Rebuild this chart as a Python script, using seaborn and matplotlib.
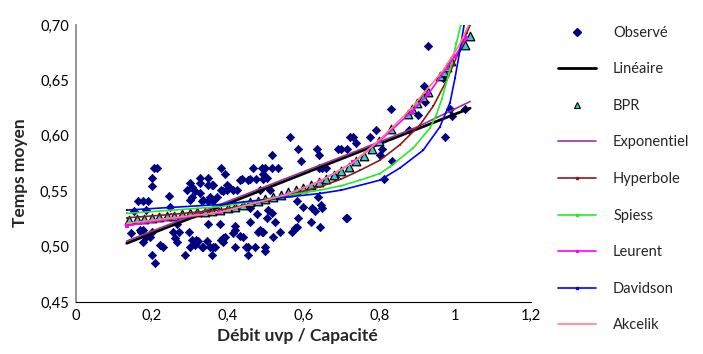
import matplotlib
matplotlib.use("Agg")
import matplotlib.pyplot as plt
from matplotlib.lines import Line2D
from matplotlib.ticker import FuncFormatter
import seaborn as sns

# observed points (flow / capacity, mean time)
obs_x = [0.213, 0.205, 0.200, 0.202, 0.246, 0.164, 0.178, 0.191, 0.153, 0.186,
         0.248, 0.173, 0.178, 0.169, 0.186, 0.195, 0.178, 0.200, 0.200, 0.208,
         0.222, 0.229, 0.255, 0.261, 0.266, 0.273, 0.266, 0.288, 0.299, 0.301,
         0.305, 0.314, 0.318, 0.323, 0.332, 0.336, 0.345, 0.349, 0.354, 0.358,
         0.362, 0.367, 0.380, 0.384, 0.389, 0.389, 0.393, 0.420, 0.415, 0.420,
         0.420, 0.433, 0.441, 0.450, 0.455, 0.455, 0.472, 0.477, 0.459, 0.459,
         0.481, 0.486, 0.490, 0.494, 0.499, 0.499, 0.503, 0.507, 0.516, 0.521,
         0.525, 0.538, 0.569, 0.578, 0.582, 0.587, 0.582, 0.600, 0.620, 0.622,
         0.631, 0.644, 0.646, 0.648, 0.639, 0.712, 0.292, 0.301, 0.305, 0.314,
         0.327, 0.327, 0.349, 0.327, 0.305, 0.301, 0.336, 0.349, 0.358, 0.362,
         0.354, 0.371, 0.332, 0.349, 0.362, 0.384, 0.393, 0.389, 0.398, 0.405,
         0.384, 0.398, 0.415, 0.424, 0.433, 0.437, 0.455, 0.459, 0.468, 0.475,
         0.486, 0.490, 0.493, 0.494, 0.499, 0.503, 0.512, 0.516, 0.516, 0.534,
         0.565, 0.585, 0.594, 0.635, 0.642, 0.641, 0.661, 0.648, 0.692, 0.699,
         0.714, 0.740, 0.723, 0.732, 0.776, 0.793, 0.802, 0.807, 0.813, 0.833,
         0.830, 0.879, 0.903, 0.919, 0.921, 0.928, 0.969, 0.974, 0.987, 0.993,
         1.026, 0.683, 0.714, 0.144]
obs_y = [0.571, 0.571, 0.562, 0.555, 0.546, 0.541, 0.541, 0.541, 0.532, 0.533,
         0.536, 0.513, 0.515, 0.515, 0.509, 0.509, 0.504, 0.513, 0.492, 0.485,
         0.501, 0.500, 0.513, 0.508, 0.504, 0.513, 0.520, 0.492, 0.513, 0.500,
         0.506, 0.501, 0.506, 0.505, 0.500, 0.500, 0.505, 0.520, 0.500, 0.492,
         0.500, 0.500, 0.520, 0.506, 0.508, 0.504, 0.509, 0.500, 0.512, 0.515,
         0.519, 0.510, 0.509, 0.500, 0.492, 0.500, 0.500, 0.529, 0.522, 0.535,
         0.513, 0.515, 0.513, 0.513, 0.496, 0.500, 0.526, 0.533, 0.530, 0.509,
         0.522, 0.513, 0.513, 0.517, 0.518, 0.526, 0.541, 0.536, 0.522, 0.535,
         0.532, 0.518, 0.538, 0.535, 0.545, 0.526, 0.551, 0.557, 0.554, 0.550,
         0.548, 0.557, 0.562, 0.562, 0.545, 0.542, 0.542, 0.556, 0.556, 0.556,
         0.545, 0.545, 0.541, 0.541, 0.541, 0.571, 0.566, 0.550, 0.556, 0.554,
         0.551, 0.551, 0.551, 0.551, 0.560, 0.561, 0.560, 0.561, 0.571, 0.561,
         0.551, 0.571, 0.566, 0.561, 0.571, 0.562, 0.551, 0.571, 0.583, 0.571,
         0.599, 0.588, 0.577, 0.588, 0.583, 0.571, 0.571, 0.571, 0.588, 0.588,
         0.588, 0.594, 0.599, 0.599, 0.599, 0.605, 0.583, 0.588, 0.561, 0.577,
         0.624, 0.605, 0.619, 0.645, 0.631, 0.681, 0.652, 0.599, 0.624, 0.618,
         0.624, 0.563, 0.526, 0.512]

lin_x = [0.134, 1.040]
lin_y = [0.503, 0.625]

bpr_x = [0.14, 0.16, 0.18, 0.20, 0.22, 0.24, 0.26, 0.28, 0.30, 0.32, 0.34, 0.36,
         0.38, 0.40, 0.42, 0.44, 0.46, 0.48, 0.50, 0.52, 0.54, 0.56, 0.58, 0.60,
         0.62, 0.64, 0.66, 0.68, 0.70, 0.72, 0.74, 0.76, 0.78, 0.80, 0.83, 0.875,
         0.886, 0.90, 0.915, 0.93, 0.96, 0.97, 0.978, 0.99, 1.026, 1.04]
bpr_y = [0.524, 0.525, 0.525, 0.526, 0.527, 0.528, 0.528, 0.529, 0.530, 0.531, 0.531, 0.532,
         0.533, 0.535, 0.536, 0.538, 0.540, 0.541, 0.543, 0.545, 0.547, 0.549, 0.551, 0.553,
         0.556, 0.558, 0.561, 0.565, 0.568, 0.572, 0.577, 0.582, 0.588, 0.595, 0.606, 0.620,
         0.624, 0.630, 0.635, 0.640, 0.654, 0.658, 0.662, 0.668, 0.682, 0.690]

exp_x = [0.134, 0.38, 0.55, 0.73, 0.90, 1.04]
exp_y = [0.505, 0.538, 0.561, 0.585, 0.608, 0.631]

hyp_x = [0.134, 0.25, 0.38, 0.50, 0.644, 0.70, 0.75, 0.802, 0.855, 0.908, 0.943,
         0.978, 1.004, 1.031, 1.04]
hyp_y = [0.526, 0.529, 0.533, 0.541, 0.554, 0.561, 0.569, 0.578, 0.592, 0.610, 0.627,
         0.650, 0.671, 0.693, 0.700]

spi_x = [0.134, 0.38, 0.644, 0.70, 0.75, 0.802, 0.828, 0.89, 0.934, 0.95, 0.965,
         0.987, 1.004, 1.015]
spi_y = [0.530, 0.536, 0.551, 0.555, 0.560, 0.566, 0.572, 0.589, 0.607, 0.618, 0.633,
         0.660, 0.684, 0.700]

leu_x = [0.134, 0.38, 0.556, 0.644, 0.732, 0.80, 0.886, 0.93, 0.978, 1.00, 1.03]
leu_y = [0.519, 0.531, 0.547, 0.559, 0.576, 0.595, 0.622, 0.638, 0.661, 0.672, 0.688]

dav_x = [0.134, 0.38, 0.644, 0.70, 0.802, 0.855, 0.916, 0.96, 0.987, 1.00, 1.013, 1.024]
dav_y = [0.533, 0.538, 0.548, 0.551, 0.560, 0.571, 0.587, 0.608, 0.630, 0.652, 0.677, 0.700]

akc_x = [0.134, 0.38, 0.556, 0.644, 0.732, 0.80, 0.886, 0.916, 0.969, 1.013, 1.032, 1.04]
akc_y = [0.521, 0.531, 0.547, 0.559, 0.576, 0.596, 0.625, 0.638, 0.659, 0.683, 0.697, 0.703]

sns.set_style("white")
plt.rcParams["font.family"] = ["Lato", "DejaVu Sans"]

fig = plt.figure(figsize=(7.03, 3.54), dpi=100)
ax = fig.add_axes([0.108, 0.147, 0.647, 0.782])

sns.scatterplot(x=obs_x, y=obs_y, ax=ax, marker="D", s=18, color="#000080",
                edgecolor="#000080", linewidth=0.5, zorder=2)
sns.lineplot(x=lin_x, y=lin_y, ax=ax, color="black", linewidth=2, zorder=3)
sns.scatterplot(x=bpr_x, y=bpr_y, ax=ax, marker="^", s=38, color="#33CCCC",
                edgecolor="black", linewidth=0.9, zorder=4)
sns.lineplot(x=exp_x, y=exp_y, ax=ax, color="#993399", linewidth=1.2, zorder=5)
sns.lineplot(x=hyp_x, y=hyp_y, ax=ax, color="#8B1A1A", linewidth=1.2,
             marker="s", markersize=2, markeredgewidth=0, zorder=5)
sns.lineplot(x=spi_x, y=spi_y, ax=ax, color="#22EE22", linewidth=1.2,
             marker="s", markersize=2, markeredgewidth=0, zorder=5)
sns.lineplot(x=leu_x, y=leu_y, ax=ax, color="#FF00FF", linewidth=1.2,
             marker="s", markersize=2.5, markeredgewidth=0, zorder=5)
sns.lineplot(x=dav_x, y=dav_y, ax=ax, color="#0000FF", linewidth=1.2,
             marker="s", markersize=2, markeredgewidth=0, zorder=5)
sns.lineplot(x=akc_x, y=akc_y, ax=ax, color="#FF8080", linewidth=1.2, zorder=5)

ax.set_xlim(0, 1.2)
ax.set_ylim(0.45, 0.70)
ax.set_xticks([0, 0.2, 0.4, 0.6, 0.8, 1.0, 1.2])
ax.set_yticks([0.45, 0.50, 0.55, 0.60, 0.65, 0.70])
ax.xaxis.set_major_formatter(FuncFormatter(lambda v, p: f"{v:g}".replace(".", ",")))
ax.yaxis.set_major_formatter(FuncFormatter(lambda v, p: f"{v:.2f}".replace(".", ",")))
ax.tick_params(axis="x", direction="inout", length=6, width=0.8, labelsize=10.5,
               pad=2, colors="black")
ax.tick_params(axis="y", direction="out", length=4, width=0.8, labelsize=10.5,
               pad=1, colors="black")
ax.tick_params(axis="y", color="#808080")

sns.despine(ax=ax)
ax.spines["left"].set_color("#808080")
ax.spines["bottom"].set_color("black")
ax.spines["left"].set_linewidth(1.2)
ax.spines["bottom"].set_linewidth(0.8)

ax.set_xlabel("Débit uvp / Capacité", fontsize=12.5, fontweight="bold")
ax.set_ylabel("Temps moyen", fontsize=12.5, fontweight="bold")
ax.xaxis.set_label_coords(0.486, -0.094)
ax.yaxis.set_label_coords(-0.105, 0.466)

handles = [
    Line2D([], [], linestyle="none", marker="D", markersize=4, color="#000080"),
    Line2D([], [], color="black", linewidth=2),
    Line2D([], [], linestyle="none", marker="^", markersize=5, markerfacecolor="#33CCCC",
           markeredgecolor="black", markeredgewidth=0.8),
    Line2D([], [], color="#993399", linewidth=1.2),
    Line2D([], [], color="#8B1A1A", linewidth=1.2, marker="s", markersize=2),
    Line2D([], [], color="#22EE22", linewidth=1.2, marker="s", markersize=2),
    Line2D([], [], color="#FF00FF", linewidth=1.2, marker="s", markersize=2),
    Line2D([], [], color="#0000FF", linewidth=1.2, marker="s", markersize=2),
    Line2D([], [], color="#FF9999", linewidth=1.5),
]
labels = ["Observé", "Linéaire", "BPR", "Exponentiel", "Hyperbole", "Spiess",
          "Leurent", "Davidson", "Akcelik"]
fig.legend(handles, labels, loc="upper left", bbox_to_anchor=(0.785, 0.944),
           frameon=False, fontsize=10.5, labelspacing=1.55, handlelength=2.6,
           handletextpad=1.2, borderaxespad=0)

fig.savefig("out.png", dpi=100)
